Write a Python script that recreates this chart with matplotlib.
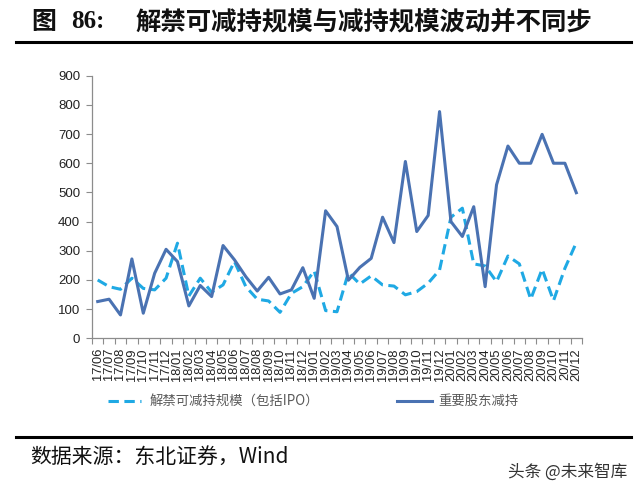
import matplotlib
matplotlib.use("Agg")
import matplotlib.pyplot as plt
from matplotlib.lines import Line2D

plt.rcParams['font.family'] = ['Liberation Sans', 'Noto Sans CJK SC', 'DejaVu Sans']

months = ['17/06', '17/07', '17/08', '17/09', '17/10', '17/11', '17/12',
          '18/01', '18/02', '18/03', '18/04', '18/05', '18/06', '18/07', '18/08', '18/09', '18/10', '18/11', '18/12',
          '19/01', '19/02', '19/03', '19/04', '19/05', '19/06', '19/07', '19/08', '19/09', '19/10', '19/11', '19/12',
          '20/01', '20/02', '20/03', '20/04', '20/05', '20/06', '20/07', '20/08', '20/09', '20/10', '20/11', '20/12']

unlock_reducible = [200, 177, 168, 206, 171, 166, 206,
                    326, 145, 206, 158, 183, 263, 177, 134, 128, 89, 154, 177,
                    231, 95, 91, 225, 186, 214, 183, 179, 149, 160, 189, 234,
                    415, 446, 255, 248, 194, 282, 255, 134, 237, 129, 240, 328]

major_holder_reduction = [126, 134, 80, 272, 86, 223, 305,
                          263, 111, 181, 143, 318, 269, 211, 162, 209, 152, 166, 242,
                          137, 437, 383, 199, 243, 274, 415, 328, 606, 366, 421, 777,
                          400, 349, 451, 177, 526, 659, 600, 600, 699, 600, 600, 499]

yticks = [0, 100, 200, 300, 400, 500, 600, 700, 800, 900]

series_names = ['解禁可减持规模（包括IPO）', '重要股东减持']
title_fig = '图'
title_num = '86:'
title_text = '解禁可减持规模与减持规模波动并不同步'
source_text = '数据来源：东北证券，Wind'
watermark = '头条 @未来智库'

c_dash = '#1fa9e4'
c_solid = '#4a72b2'
axis_gray = '#8c8c8c'

fig = plt.figure(figsize=(6.4, 4.95), dpi=100)
W, H = 640, 495
ax = fig.add_axes([92 / W, 1 - 338.3 / H, (582 - 92) / W, (338.3 - 75.7) / H])

x = list(range(len(months)))
ax.plot(x, unlock_reducible, color=c_dash, lw=2.2, linestyle=(0, (3.4, 1.8)), zorder=2)
ax.plot(x, major_holder_reduction, color=c_solid, lw=2.2, zorder=3)

ax.set_xlim(-0.5, len(months) - 0.5)
ax.set_ylim(0, 900)
ax.set_yticks(yticks)
ax.set_yticklabels([str(v) for v in yticks], fontsize=9.5, color='#222222')
ax.set_xticks(x)
ax.set_xticklabels(months, rotation=90, fontsize=9.3, color='#222222')
ax.set_xticks([i - 0.5 for i in range(len(months) + 1)], minor=True)
ax.tick_params(axis='x', which='major', length=0, pad=7)
ax.tick_params(axis='x', which='minor', length=4.5, width=0.8, color=axis_gray, direction='out')
ax.tick_params(axis='y', which='major', length=4.5, width=0.8, color=axis_gray, direction='out', pad=4)

for s in ['top', 'right']:
    ax.spines[s].set_visible(False)
for s in ['left', 'bottom']:
    ax.spines[s].set_color(axis_gray)
    ax.spines[s].set_linewidth(0.9)

# Title
ty = 1 - 22 / H
fig.text(31 / W, ty, title_fig, fontsize=18, fontweight='bold',
         family=['Noto Sans CJK SC'], va='center', ha='left', color='#111111')
fig.text(71 / W, ty, title_num, fontsize=18, fontweight='bold',
         family=['Liberation Serif'], va='center', ha='left', color='#111111')
fig.text(136 / W, ty, title_text, fontsize=18.3, fontweight='bold',
         family=['Noto Sans CJK SC'], va='center', ha='left', color='#111111')
fig.add_artist(Line2D([16 / W, 631 / W], [1 - 42 / H, 1 - 42 / H], color='black', lw=2.2))

# Legend (manual)
ly = 1 - 400.5 / H
fig.add_artist(Line2D([108 / W, 141 / W], [ly, ly], color=c_dash, lw=2.2, linestyle=(0, (3.4, 1.8))))
fig.text(150 / W, ly, series_names[0], fontsize=9.6, color='#595959', va='center', ha='left',
         family=['Noto Sans CJK SC'])
fig.add_artist(Line2D([397 / W, 432 / W], [ly, ly], color=c_solid, lw=2.2))
fig.text(438 / W, ly, series_names[1], fontsize=9.6, color='#595959', va='center', ha='left',
         family=['Noto Sans CJK SC'])

# Bottom rule and source
fig.add_artist(Line2D([16 / W, 631 / W], [1 - 437 / H, 1 - 437 / H], color='black', lw=2.2))
fig.text(30 / W, 1 - 457 / H, source_text, fontsize=15, color='#111111', va='center', ha='left',
         family=['Noto Sans CJK SC', 'Liberation Serif'])
fig.text(627 / W, 1 - 472 / H, watermark, fontsize=12, color='#333333', va='center', ha='right',
         family=['Noto Sans CJK SC'])

fig.savefig('out.png', dpi=100)
